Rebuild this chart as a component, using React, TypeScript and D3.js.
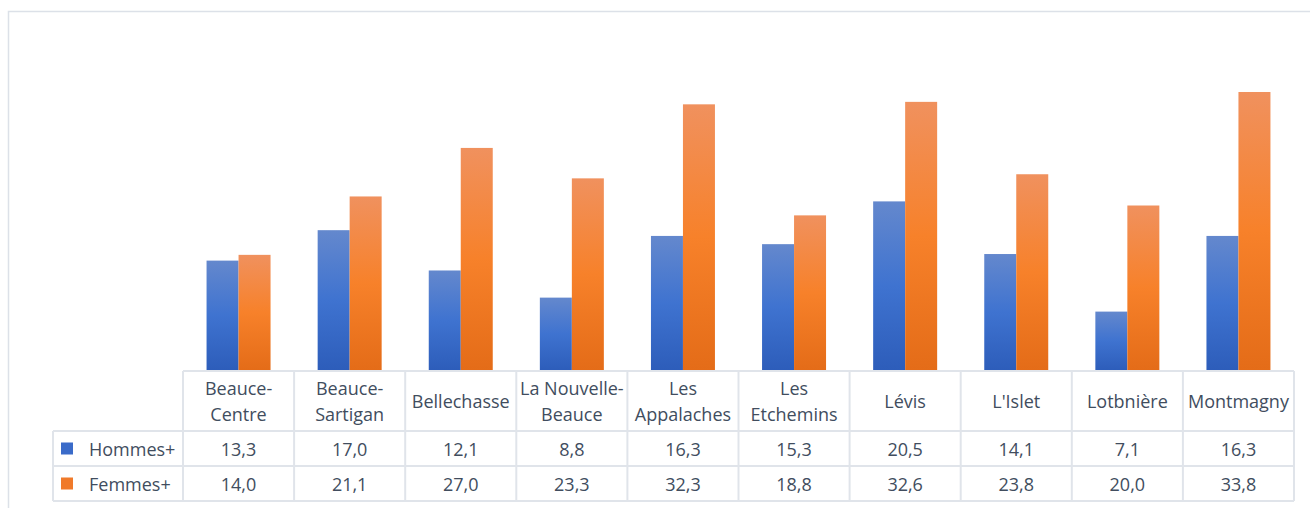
import React from "react";
import * as d3 from "d3";

const categories = [
  "Beauce-Centre",
  "Beauce-Sartigan",
  "Bellechasse",
  "La Nouvelle-Beauce",
  "Les Appalaches",
  "Les Etchemins",
  "Lévis",
  "L'Islet",
  "Lotbnière",
  "Montmagny",
];
const headerLines = [
  ["Beauce-", "Centre"],
  ["Beauce-", "Sartigan"],
  ["Bellechasse"],
  ["La Nouvelle-", "Beauce"],
  ["Les", "Appalaches"],
  ["Les", "Etchemins"],
  ["Lévis"],
  ["L'Islet"],
  ["Lotbnière"],
  ["Montmagny"],
];
const seriesNames = ["Hommes+", "Femmes+"];
const hommes = [13.3, 17.0, 12.1, 8.8, 16.3, 15.3, 20.5, 14.1, 7.1, 16.3];
const femmes = [14.0, 21.1, 27.0, 23.3, 32.3, 18.8, 32.6, 23.8, 20.0, 33.8];
const yDomain = [0, 40];

const W = 1310;
const H = 508;
const plotLeft = 183;
const plotRight = 1294;
const plotTop = 41;
const baseline = 370;
const headerBottom = 431;
const row1Bottom = 466;
const row2Bottom = 501;
const legendLeft = 53;

const textColor = "#414D5E";
const gridColor = "#E0E4EA";
const fontFamily = "'Open Sans', sans-serif";
const fontSize = 18;

const fmt = (v: number) => v.toFixed(1).replace(".", ",");

export default function App() {
  const x = d3.scaleBand<string>().domain(categories).range([plotLeft, plotRight]).paddingInner(0).paddingOuter(0);
  const bw = x.bandwidth();
  const groupW = bw * 0.576;
  const inner = d3
    .scaleBand<string>()
    .domain(seriesNames)
    .range([(bw - groupW) / 2, (bw + groupW) / 2])
    .padding(0);
  const y = d3.scaleLinear().domain(yDomain).range([baseline, plotTop]);
  const series = [hommes, femmes];
  const grads = ["gBlue", "gOrange"];
  const swatch = ["#3A6BC9", "#F07A2A"];

  const rows = [
    { top: headerBottom, bottom: row1Bottom },
    { top: row1Bottom, bottom: row2Bottom },
  ];

  return (
    <svg
      width={W}
      height={H}
      style={{ position: "absolute", left: 0, top: 0, background: "#fff" }}
      fontFamily={fontFamily}
    >
      <defs>
        <linearGradient id="gBlue" x1="0" y1="0" x2="0" y2="1">
          <stop offset="0" stopColor="#6488CD" />
          <stop offset="0.5" stopColor="#3F73D0" />
          <stop offset="1" stopColor="#2D5DBA" />
        </linearGradient>
        <linearGradient id="gOrange" x1="0" y1="0" x2="0" y2="1">
          <stop offset="0" stopColor="#F0915E" />
          <stop offset="0.5" stopColor="#F7812A" />
          <stop offset="1" stopColor="#E46C18" />
        </linearGradient>
      </defs>
      {/* outer chart border */}
      <rect x={8.5} y={11.5} width={1400} height={600} fill="none" stroke="#DCE1E8" strokeWidth={1.5} />

      {/* bars */}
      {categories.map((c, i) => (
        <g key={c} transform={`translate(${x(c)},0)`}>
          {series.map((s, j) => (
            <rect
              key={j}
              x={inner(seriesNames[j])}
              y={y(s[i])}
              width={inner.bandwidth()}
              height={baseline - y(s[i])}
              fill={`url(#${grads[j]})`}
            />
          ))}
        </g>
      ))}

      {/* table grid */}
      <g stroke={gridColor} strokeWidth={2} fill="none">
        <line x1={plotLeft} x2={plotRight} y1={baseline + 1} y2={baseline + 1} />
        <line x1={legendLeft} x2={plotRight} y1={headerBottom} y2={headerBottom} />
        <line x1={legendLeft} x2={plotRight} y1={row1Bottom} y2={row1Bottom} />
        <line x1={legendLeft} x2={plotRight} y1={row2Bottom} y2={row2Bottom} />
        <line x1={legendLeft} x2={legendLeft} y1={headerBottom} y2={row2Bottom} />
        {categories.map((c) => (
          <line key={c} x1={x(c)} x2={x(c)} y1={baseline + 1} y2={row2Bottom} />
        ))}
        <line x1={plotRight} x2={plotRight} y1={baseline + 1} y2={row2Bottom} />
      </g>

      {/* header labels */}
      <g fill={textColor} fontSize={fontSize} textAnchor="middle">
        {categories.map((c, i) => {
          const lines = headerLines[i];
          const cx = (x(c) as number) + bw / 2;
          const mid = (baseline + headerBottom) / 2;
          const lh = 26;
          return (
            <text key={c} x={cx} y={mid - ((lines.length - 1) * lh) / 2} dominantBaseline="central">
              {lines.map((l, k) => (
                <tspan key={k} x={cx} dy={k === 0 ? 0 : lh}>
                  {l}
                </tspan>
              ))}
            </text>
          );
        })}
      </g>

      {/* rows */}
      {rows.map((r, j) => {
        const cy = (r.top + r.bottom) / 2;
        return (
          <g key={j} fill={textColor} fontSize={fontSize}>
            <rect x={61} y={cy - 6} width={12} height={12} fill={swatch[j]} />
            <text x={89} y={cy} dominantBaseline="central">
              {seriesNames[j]}
            </text>
            {categories.map((c, i) => (
              <text key={c} x={(x(c) as number) + bw / 2} y={cy} textAnchor="middle" dominantBaseline="central">
                {fmt(series[j][i])}
              </text>
            ))}
          </g>
        );
      })}
    </svg>
  );
}
